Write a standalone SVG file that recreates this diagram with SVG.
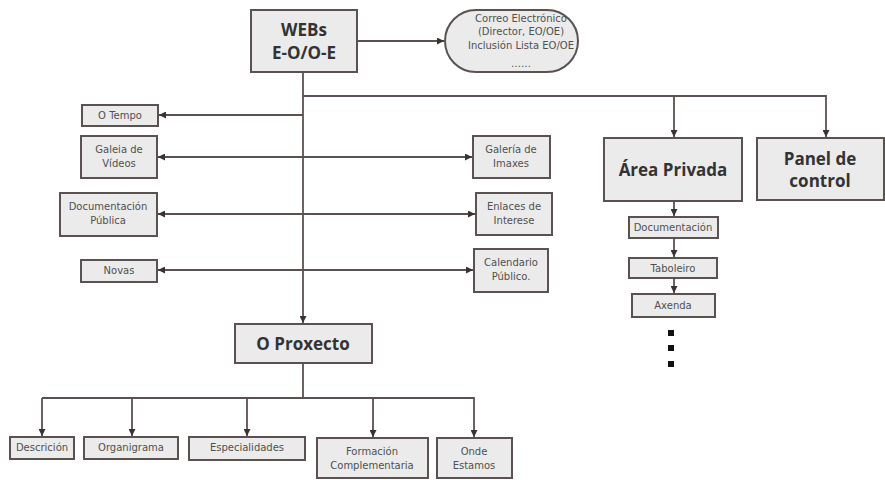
<svg xmlns="http://www.w3.org/2000/svg" width="885" height="480" viewBox="0 0 885 480">
<style>
.b{fill:#ebebeb;stroke:#5a5250;stroke-width:2}
.l{fill:none;stroke:#5a5250;stroke-width:1.8}
.s{font-family:"DejaVu Sans",Verdana,sans-serif;font-size:10px;fill:#505050;text-anchor:middle}
.t{font-family:"Open Sans","DejaVu Sans",sans-serif;font-weight:bold;font-size:17px;fill:#333;text-anchor:middle}
</style>
<defs>
<marker id="a" viewBox="0 0 10 10" refX="10" refY="5" markerWidth="7" markerHeight="7" orient="auto-start-reverse" markerUnits="userSpaceOnUse">
<path d="M0,0L10,5L0,10z" fill="#3a3232"/>
</marker>
</defs>
<rect width="885" height="480" fill="#fff"/>
<g id="connectors">
<path class="l" d="M357,41H444" marker-end="url(#a)"/>
<path class="l" d="M303,72V323" marker-end="url(#a)"/>
<path class="l" d="M303,96H826V137" marker-end="url(#a)"/>
<path class="l" d="M674,96V137" marker-end="url(#a)"/>
<path class="l" d="M303,115H159" marker-end="url(#a)"/>
<path class="l" d="M158,157H472" marker-start="url(#a)" marker-end="url(#a)"/>
<path class="l" d="M158,214H475" marker-start="url(#a)" marker-end="url(#a)"/>
<path class="l" d="M158,270H473" marker-start="url(#a)" marker-end="url(#a)"/>
<path class="l" d="M674,201V216" marker-end="url(#a)"/>
<path class="l" d="M674,238V257" marker-end="url(#a)"/>
<path class="l" d="M674,278V293" marker-end="url(#a)"/>
<path class="l" d="M303,363V398"/>
<path class="l" d="M42,398H474V437" marker-end="url(#a)"/>
<path class="l" d="M42,398V436" marker-end="url(#a)"/>
<path class="l" d="M132,398V436" marker-end="url(#a)"/>
<path class="l" d="M247,398V436" marker-end="url(#a)"/>
<path class="l" d="M373,398V437" marker-end="url(#a)"/>
</g>
<g id="webs"><rect class="b" x="251" y="10" width="106" height="62"/><text class="t" x="304" y="36">WEBs</text><text class="t" x="304" y="59">E-O/O-E</text></g>
<g id="correo"><rect class="b" x="445" y="10" width="133" height="62" rx="31" ry="31"/>
<text class="s" x="521" y="22" font-size="10.5">Correo Electrónico</text><text class="s" x="521" y="35" font-size="10.5">(Director, EO/OE)</text><text class="s" x="521" y="49" font-size="10.5">Inclusión Lista EO/OE</text><text class="s" x="521" y="67" font-size="7">……</text></g>
<g id="tempo"><rect class="b" x="82" y="105" width="76" height="21"/><text class="s" x="120" y="119">O Tempo</text></g>
<g id="videos"><rect class="b" x="81" y="136" width="76" height="42"/><text class="s" x="119" y="153">Galeia de</text><text class="s" x="119" y="167">Vídeos</text></g>
<g id="docpub"><rect class="b" x="60" y="193" width="97" height="43"/><text class="s" x="108" y="210">Documentación</text><text class="s" x="108" y="224">Pública</text></g>
<g id="novas"><rect class="b" x="81" y="260" width="76" height="22"/><text class="s" x="119" y="274">Novas</text></g>
<g id="imaxes"><rect class="b" x="473" y="136" width="77" height="42"/><text class="s" x="511" y="153">Galería de</text><text class="s" x="511" y="167">Imaxes</text></g>
<g id="enlaces"><rect class="b" x="476" y="193" width="76" height="42"/><text class="s" x="514" y="210">Enlaces de</text><text class="s" x="514" y="224">Interese</text></g>
<g id="calendario"><rect class="b" x="474" y="249" width="74" height="43"/><text class="s" x="511" y="266">Calendario</text><text class="s" x="511" y="280">Público.</text></g>
<g id="area"><rect class="b" x="604" y="138" width="138" height="63"/><text class="t" x="673" y="176">Área Privada</text></g>
<g id="panel"><rect class="b" x="757" y="138" width="127" height="62"/><text class="t" x="820" y="165">Panel de</text><text class="t" x="820" y="187">control</text></g>
<g id="documentacion"><rect class="b" x="629" y="217" width="89" height="21"/><text class="s" x="673" y="231">Documentación</text></g>
<g id="taboleiro"><rect class="b" x="629" y="258" width="88" height="20"/><text class="s" x="673" y="272">Taboleiro</text></g>
<g id="axenda"><rect class="b" x="632" y="294" width="83" height="23"/><text class="s" x="673" y="309">Axenda</text></g>
<g id="dots" fill="#111"><rect x="668" y="330" width="6" height="6"/><rect x="668" y="345" width="6" height="6"/><rect x="668" y="361" width="6" height="6"/></g>
<g id="proxecto"><rect class="b" x="235" y="324" width="137" height="39"/><text class="t" x="303" y="350">O Proxecto</text></g>
<g id="descricion"><rect class="b" x="10" y="437" width="64" height="22"/><text class="s" x="42" y="451">Descrición</text></g>
<g id="organigrama"><rect class="b" x="84" y="437" width="94" height="22"/><text class="s" x="131" y="451">Organigrama</text></g>
<g id="especialidades"><rect class="b" x="189" y="437" width="116" height="23"/><text class="s" x="247" y="451">Especialidades</text></g>
<g id="formacion"><rect class="b" x="317" y="438" width="111" height="40"/><text class="s" x="372" y="455">Formación</text><text class="s" x="372" y="469">Complementaria</text></g>
<g id="onde"><rect class="b" x="437" y="438" width="75" height="40"/><text class="s" x="474" y="455">Onde</text><text class="s" x="474" y="469">Estamos</text></g>
</svg>
